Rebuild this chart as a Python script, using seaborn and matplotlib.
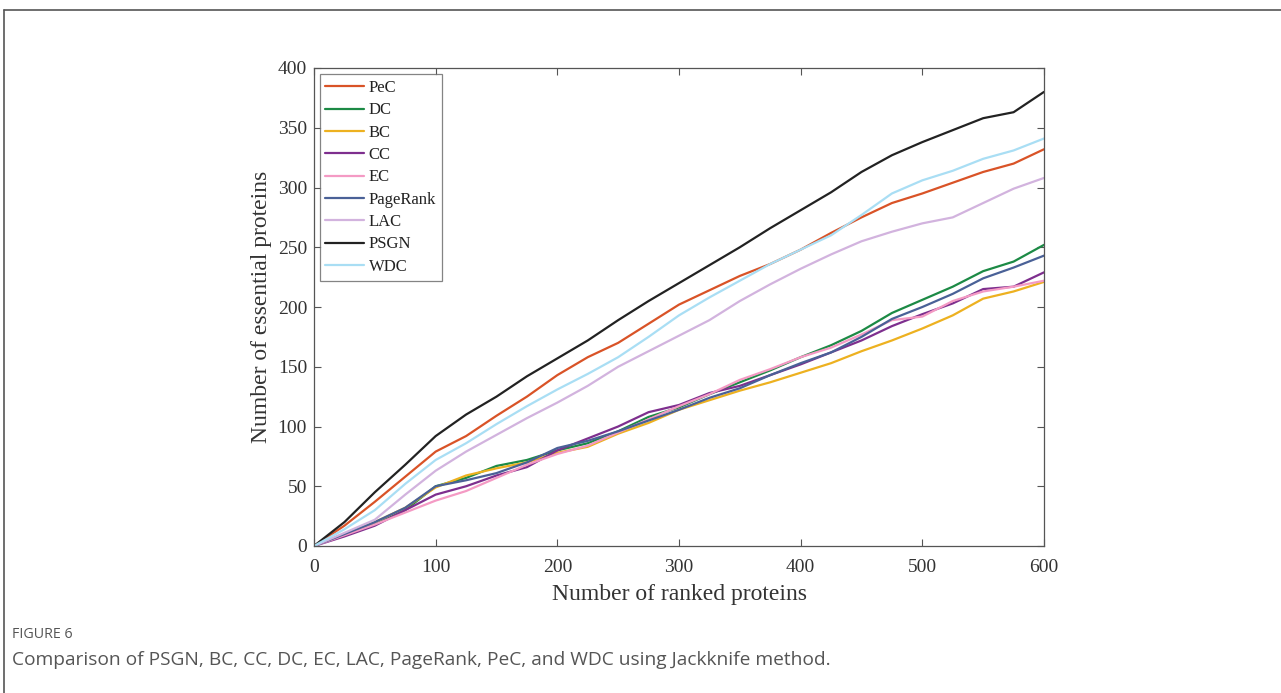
import numpy as np
import pandas as pd
import seaborn as sns
import matplotlib
matplotlib.use("Agg")
import matplotlib.pyplot as plt
from matplotlib.lines import Line2D

ranked = [0, 25, 50, 75, 100, 125, 150, 175, 200, 225, 250, 275, 300,
          325, 350, 375, 400, 425, 450, 475, 500, 525, 550, 575, 600]

pec  = [0, 17, 37, 58, 79, 92, 109, 125, 143, 158, 170, 186, 202,
        214, 226, 236, 248, 262, 275, 287, 295, 304, 313, 320, 332]
dc   = [0, 10, 18, 30, 50, 57, 67, 72, 80, 86, 96, 108, 116,
        127, 137, 147, 158, 168, 180, 195, 206, 217, 230, 238, 252]
bc   = [0, 10, 20, 32, 49, 59, 65, 70, 78, 83, 94, 103, 114,
        122, 130, 137, 145, 153, 163, 172, 182, 193, 207, 213, 221]
cc   = [0, 8, 17, 30, 43, 50, 59, 66, 80, 90, 100, 112, 118,
        128, 134, 143, 152, 162, 172, 184, 194, 203, 215, 217, 229]
ec   = [0, 9, 18, 28, 38, 46, 57, 68, 77, 84, 95, 106, 117,
        127, 139, 148, 158, 166, 177, 189, 192, 205, 213, 217, 222]
pagerank = [0, 10, 20, 32, 50, 55, 61, 70, 82, 88, 96, 105, 114,
            124, 132, 143, 153, 162, 175, 190, 200, 211, 224, 233, 243]
lac  = [0, 11, 22, 43, 63, 79, 93, 107, 120, 134, 150, 163, 176,
        189, 205, 219, 232, 244, 255, 263, 270, 275, 287, 299, 308]
psgn = [0, 20, 45, 68, 92, 110, 125, 142, 157, 172, 189, 205, 220,
        235, 250, 266, 281, 296, 313, 327, 338, 348, 358, 363, 380]
wdc  = [0, 14, 30, 52, 72, 86, 102, 117, 131, 144, 158, 175, 193,
        208, 222, 236, 248, 260, 277, 295, 306, 314, 324, 331, 341]

methods = ["PeC", "DC", "BC", "CC", "EC", "PageRank", "LAC", "PSGN", "WDC"]
series = [pec, dc, bc, cc, ec, pagerank, lac, psgn, wdc]
colors = ["#D95327", "#1C8A45", "#EDB120", "#7E2F8E", "#F49AC4",
          "#4A6197", "#D2B3DE", "#222222", "#A9DEF4"]

rows = []
for m, vals in zip(methods, series):
    for x, y in zip(ranked, vals):
        rows.append({"ranked": x, "essential": y, "method": m})
df = pd.DataFrame(rows)

sns.set_theme(style="white")
plt.rcParams["font.family"] = ["Liberation Serif", "DejaVu Serif"]

fig = plt.figure(figsize=(12.81, 6.93), dpi=100)
ax = fig.add_axes([314 / 1281, 1 - 546 / 693, (1044 - 314) / 1281, (546 - 68) / 693])

palette = dict(zip(methods, colors))
sns.lineplot(data=df, x="ranked", y="essential", hue="method", hue_order=methods,
             palette=palette, linewidth=1.6, ax=ax, legend=False)

ax.set_xlim(0, 600)
ax.set_ylim(0, 400)
ax.set_xticks([0, 100, 200, 300, 400, 500, 600])
ax.set_yticks([0, 50, 100, 150, 200, 250, 300, 350, 400])
ax.set_xlabel("Number of ranked proteins", fontsize=17, color="#333333", labelpad=6)
ax.set_ylabel("Number of essential proteins", fontsize=17, color="#333333", labelpad=4)
ax.tick_params(axis="both", which="both", direction="in", length=5, width=0.8,
               colors="#555555", labelcolor="#333333", labelsize=14, pad=5,
               top=True, right=True, bottom=True, left=True)
ax.tick_params(axis="x", pad=9)
for s in ax.spines.values():
    s.set_visible(True)
    s.set_color("#555555")
    s.set_linewidth(0.9)

handles = [Line2D([0], [0], color=c, lw=1.6) for c in colors]
leg = ax.legend(handles, methods, loc="upper left", bbox_to_anchor=(0.003, 0.994),
                fontsize=12, frameon=True, fancybox=False, handlelength=2.3,
                handletextpad=0.3, labelspacing=0.38, borderpad=0.35,
                borderaxespad=0.2)
leg.get_frame().set_edgecolor("#666666")
leg.get_frame().set_linewidth(0.9)
for t in leg.get_texts():
    t.set_color("#222222")

# page frame
fig.add_artist(Line2D([4 / 1281, 1.0], [1 - 10 / 693, 1 - 10 / 693],
                      transform=fig.transFigure, color="#555555", lw=1.2))
fig.add_artist(Line2D([4 / 1281, 4 / 1281], [0.0, 1 - 10 / 693],
                      transform=fig.transFigure, color="#555555", lw=1.2))

fig.text(12 / 1281, 1 - 634 / 693, "FIGURE 6", fontsize=10.3, color="#555555",
         family=["Open Sans", "DejaVu Sans"], va="center", ha="left")
fig.text(12 / 1281, 1 - 660 / 693,
         "Comparison of PSGN, BC, CC, DC, EC, LAC, PageRank, PeC, and WDC using Jackknife method.",
         fontsize=13.8, color="#555555", family=["Open Sans", "DejaVu Sans"],
         va="center", ha="left")

fig.savefig("out.png", dpi=100)
